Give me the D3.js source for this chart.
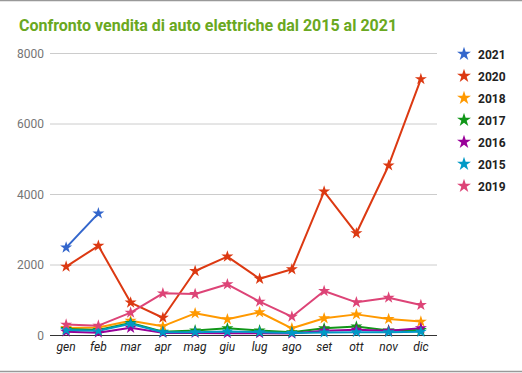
<!DOCTYPE html>
<html>
<head>
<meta charset="utf-8">
<script src="https://cdn.jsdelivr.net/npm/d3@7"></script>
<style>
  body { margin: 0; background: #fff; }
  svg { font-family: Roboto, "Noto Sans", sans-serif; }
</style>
</head>
<body>
<svg id="chart" width="522" height="373"></svg>
<script>
// mesi e serie
var mesi = ["gen", "feb", "mar", "apr", "mag", "giu", "lug", "ago", "set", "ott", "nov", "dic"];
var anni = ["2021", "2020", "2018", "2017", "2016", "2015", "2019"];
var colori = ["#3366cc", "#dc3912", "#ff9900", "#109618", "#990099", "#0099c6", "#dd4477"];

var v2021 = [2480, 3450];
var v2020 = [1940, 2530, 920, 490, 1815, 2225, 1595, 1865, 4070, 2885, 4810, 7260];
var v2018 = [200, 210, 405, 250, 615, 445, 645, 190, 475, 585, 455, 380];
var v2017 = [170, 140, 340, 90, 130, 190, 130, 80, 190, 240, 130, 140];
var v2016 = [95, 66, 205, 60, 60, 50, 50, 40, 120, 150, 120, 195];
var v2015 = [140, 120, 320, 80, 80, 100, 80, 60, 70, 80, 80, 90];
var v2019 = [295, 265, 633, 1182, 1163, 1438, 945, 520, 1248, 927, 1059, 851];
var yTicks = [0, 2000, 4000, 6000, 8000];

var serie = [v2021, v2020, v2018, v2017, v2016, v2015, v2019];

var svg = d3.select("#chart");

// bordo sopra e sotto
svg.append("line").attr("x1", 0).attr("x2", 522).attr("y1", 0.5).attr("y2", 0.5)
  .attr("stroke", "#999").attr("stroke-width", 1.5);
svg.append("line").attr("x1", 0).attr("x2", 522).attr("y1", 371.5).attr("y2", 371.5)
  .attr("stroke", "#999").attr("stroke-width", 1.5);

svg.append("text")
  .attr("x", 19).attr("y", 31)
  .attr("fill", "#6aa821")
  .style("font-size", "16px").style("font-weight", "bold")
  .text("Confronto vendita di auto elettriche dal 2015 al 2021");

var x = d3.scaleBand().domain(mesi).range([50, 437]);
var y = d3.scaleLinear().domain([0, 8000]).range([335, 53]);

// griglia
var grid = svg.append("g");
grid.selectAll("line").data(yTicks).enter().append("line")
  .attr("x1", 50).attr("x2", 437)
  .attr("y1", d => y(d) + 0.5).attr("y2", d => y(d) + 0.5)
  .attr("stroke", d => d === 0 ? "#333" : "#ccc")
  .attr("stroke-width", 1);

grid.selectAll("text").data(yTicks).enter().append("text")
  .attr("x", 44).attr("y", d => y(d) + 4.5)
  .attr("text-anchor", "end")
  .attr("fill", "#757575")
  .style("font-size", "12px")
  .text(d => d);

svg.append("g").selectAll("text").data(mesi).enter().append("text")
  .attr("x", d => x(d) + x.bandwidth() / 2)
  .attr("y", 351)
  .attr("text-anchor", "middle")
  .attr("fill", "#222")
  .style("font-size", "12px").style("font-style", "italic")
  .text(d => d);

var line = d3.line()
  .x((d, i) => x(mesi[i]) + x.bandwidth() / 2)
  .y(d => y(d));

var star = d3.symbol().type(d3.symbolStar).size(45);

serie.forEach((vals, k) => {
  var g = svg.append("g");
  g.append("path")
    .datum(vals)
    .attr("d", line)
    .attr("fill", "none")
    .attr("stroke", colori[k])
    .attr("stroke-width", 2)
    .attr("stroke-linejoin", "round");
  g.selectAll("path.pt").data(vals).enter().append("path")
    .attr("class", "pt")
    .attr("d", star)
    .attr("transform", (d, i) => "translate(" + (x(mesi[i]) + x.bandwidth() / 2) + "," + y(d) + ")")
    .attr("fill", colori[k]);
});

// legenda
var leg = svg.append("g").selectAll("g").data(anni).enter().append("g")
  .attr("transform", (d, i) => "translate(464," + (54 + i * 22) + ")");
leg.append("path")
  .attr("d", d3.symbol().type(d3.symbolStar).size(60))
  .attr("fill", (d, i) => colori[i]);
leg.append("text")
  .attr("x", 14).attr("y", 4.5)
  .attr("fill", "#222")
  .style("font-size", "12px").style("font-weight", "bold")
  .text(d => d);
</script>
</body>
</html>
